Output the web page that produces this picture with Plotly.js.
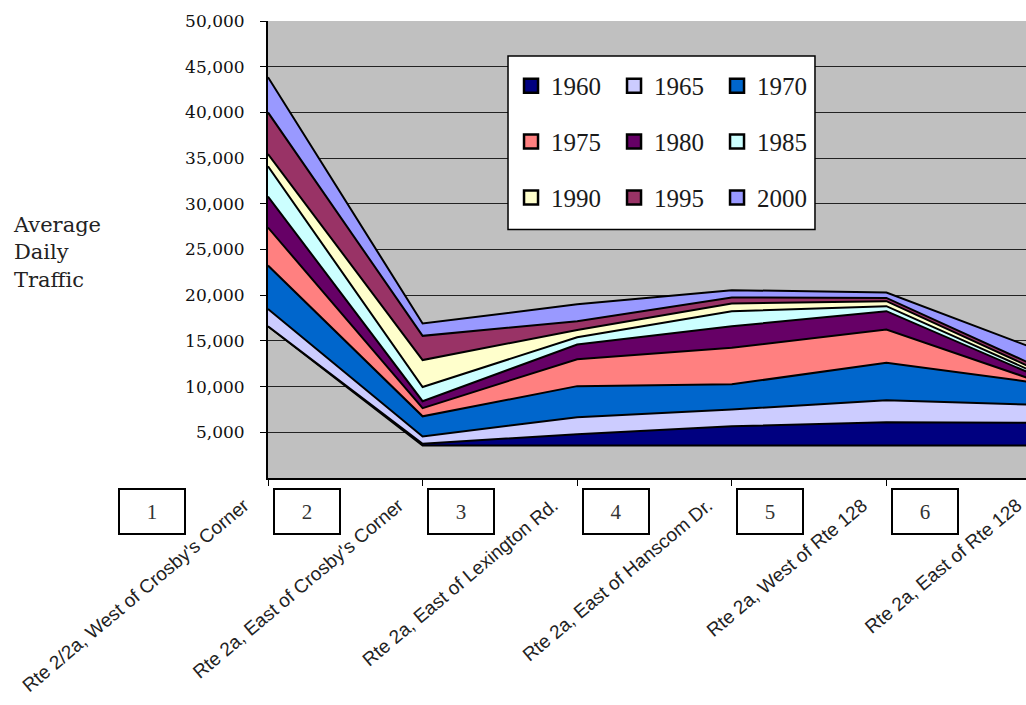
<!DOCTYPE html>
<html>
<head>
<meta charset="utf-8">
<script src="https://cdn.plot.ly/plotly-3.0.1.min.js"></script>
<style>
  html, body { margin: 0; padding: 0; overflow: hidden; background: #ffffff; }
  #chart { width: 1070px; height: 705px; }
</style>
</head>
<body>
<div id="chart"></div>
<script>
// Count locations along Route 2 / 2a
const locations = [
  "Rte 2/2a, West of Crosby's Corner",
  "Rte 2a, East of Crosby's Corner",
  "Rte 2a, East of Lexington Rd.",
  "Rte 2a, East of Hanscom Dr.",
  "Rte 2a, West of Rte 128",
  "Rte 2a, East of Rte 128"
];
const segmentNumbers = ["1", "2", "3", "4", "5", "6"];

// Survey years, stacked bottom to top
const years = ["1960", "1965", "1970", "1975", "1980", "1985", "1990", "1995", "2000"];

// Unfilled offset under the first band
const baseline = [16600, 3550, 3550, 3550, 3550, 3550];

// Average daily traffic increments per survey year
const adt1960 = [0, 200, 1250, 2100, 2550, 2500];
const adt1965 = [1900, 800, 1850, 1850, 2400, 1950];
const adt1970 = [4750, 2200, 3400, 2750, 4100, 2350];
const adt1975 = [4150, 900, 2950, 4000, 3650, 100];
const adt1980 = [3400, 750, 1600, 2350, 2000, 500];
const adt1985 = [3300, 1550, 800, 1650, 550, 300];
const adt1990 = [1350, 2950, 800, 850, 550, 350];
const adt1995 = [4550, 2650, 950, 650, 350, 400];
const adt2000 = [3850, 1350, 1850, 800, 600, 1900];

const yTicks = [5000, 10000, 15000, 20000, 25000, 30000, 35000, 40000, 45000, 50000];

const seriesColors = ["#000080", "#ccccff", "#0066cc", "#ff8080", "#660066",
                      "#ccffff", "#ffffcc", "#993366", "#9999ff"];
const yearValues = [adt1960, adt1965, adt1970, adt1975, adt1980, adt1985, adt1990, adt1995, adt2000];

const serif = "Liberation Serif, Times New Roman, serif";
const wideSerif = "DejaVu Serif, serif";
const sans = "Liberation Sans, Arial, sans-serif";

const traces = [];

traces.push({
  type: "scatter", name: "offset", x: locations, y: baseline,
  stackgroup: "traffic", mode: "lines",
  line: { color: "#000", width: 2 },
  fillcolor: "rgba(0,0,0,0)",
  showlegend: false, hoverinfo: "skip"
});

years.forEach((yr, i) => {
  traces.push({
    type: "scatter", name: yr, x: locations, y: yearValues[i],
    stackgroup: "traffic", mode: "lines",
    line: { color: "#000", width: 2 },
    fillcolor: seriesColors[i],
    showlegend: false, hoverinfo: "skip"
  });
});

// Legend keys, three per row
const legendIds = ["legend", "legend2", "legend3"];
years.forEach((yr, i) => {
  traces.push({
    type: "scatter", name: yr, x: [null], y: [null], mode: "markers",
    marker: { symbol: "square", size: 14, color: seriesColors[i], line: { color: "#000", width: 2.5 } },
    legend: legendIds[Math.floor(i / 3)],
    hoverinfo: "skip"
  });
});

const legendCommon = {
  orientation: "h", traceorder: "normal",
  bgcolor: "rgba(0,0,0,0)", borderwidth: 0,
  font: { family: serif, size: 25, color: "#1a1a1a" },
  entrywidth: 58, entrywidthmode: "pixels",
  x: 0.3144, xanchor: "left", yanchor: "middle",
  itemclick: false, itemdoubleclick: false
};
const legendRowsY = [0.858, 0.736, 0.6135];

const annotations = [{
  text: "Average<br>Daily<br>Traffic", showarrow: false,
  xref: "paper", yref: "paper", x: -0.333, y: 0.494,
  xanchor: "left", yanchor: "middle", align: "left",
  font: { family: wideSerif, size: 21, color: "#222" }
}];
segmentNumbers.forEach((n, i) => {
  annotations.push({
    text: n, showarrow: false,
    xref: "paper", yref: "paper", x: (i - 0.75) / (locations.length - 1), y: -0.074,
    xanchor: "center", yanchor: "middle",
    width: 64, height: 43, borderpad: 0,
    bordercolor: "#000", borderwidth: 2, bgcolor: "#fff",
    font: { family: serif, size: 21, color: "#333" }
  });
});

const layout = {
  width: 1070, height: 705,
  margin: { l: 268, r: 29, t: 21, b: 227 },
  paper_bgcolor: "#ffffff", plot_bgcolor: "#c0c0c0",
  showlegend: true,
  legend: Object.assign({}, legendCommon, { y: legendRowsY[0] }),
  legend2: Object.assign({}, legendCommon, { y: legendRowsY[1] }),
  legend3: Object.assign({}, legendCommon, { y: legendRowsY[2] }),
  xaxis: {
    type: "category", range: [0, locations.length - 1],
    showgrid: false, zeroline: false,
    showline: true, linecolor: "#000", linewidth: 2,
    ticks: "outside", ticklen: 6, tickcolor: "#000",
    tickangle: -40, ticklabelshift: -24, ticklabelstandoff: 1,
    tickfont: { family: sans, size: 19, color: "#222" }
  },
  yaxis: {
    range: [0, 50000], tickmode: "array", tickvals: yTicks,
    tickformat: ",", showgrid: true, gridcolor: "#222", gridwidth: 1,
    zeroline: false, showline: true, linecolor: "#000", linewidth: 2,
    ticks: "outside", ticklen: 6, tickcolor: "#000",
    ticklabelstandoff: 12,
    tickfont: { family: wideSerif, size: 17, color: "#111" }
  },
  shapes: [{
    type: "rect", xref: "paper", yref: "paper", layer: "above",
    x0: 0.3105, x1: 0.7076, y0: 0.5437, y1: 0.9236,
    fillcolor: "#ffffff", line: { color: "#000", width: 1.5 }
  }],
  annotations: annotations
};

Plotly.newPlot("chart", traces, layout, { displayModeBar: false, staticPlot: true });
</script>
</body>
</html>
